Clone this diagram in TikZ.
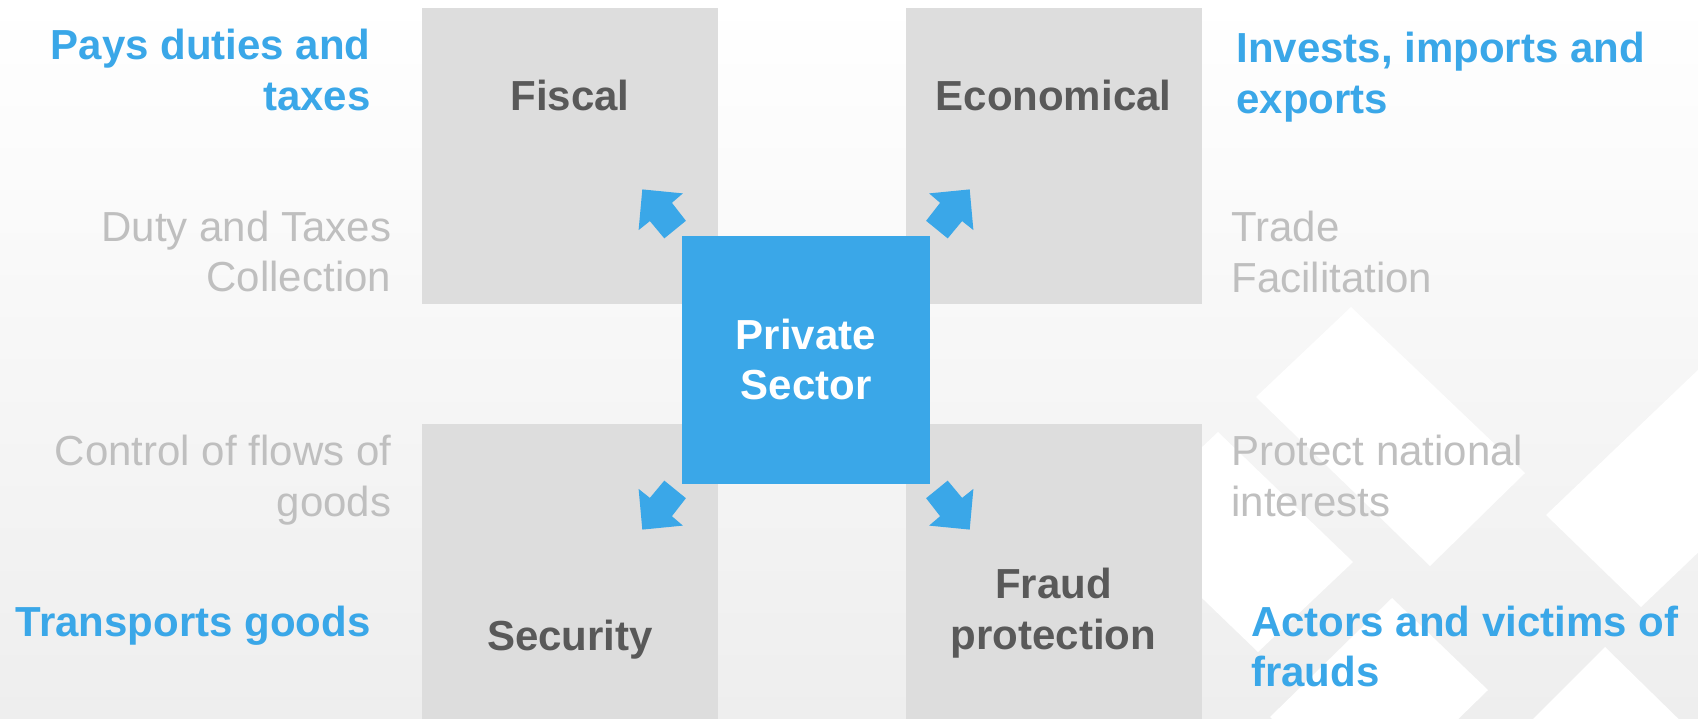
\documentclass[tikz,border=0pt]{standalone}
\usepackage{fontspec}
\setmainfont{Liberation Sans}
\usetikzlibrary{positioning}
\definecolor{sectorblue}{RGB}{58,167,232}
\definecolor{boxgrey}{RGB}{221,221,221}
\definecolor{headgrey}{RGB}{89,89,89}
\definecolor{notegrey}{RGB}{191,191,191}
\definecolor{paperlow}{RGB}{238,238,238}

\begin{document}
\begin{tikzpicture}
  [x=0.5pt,y=-0.5pt,
   every node/.style={inner sep=0pt,font=\fontsize{21}{25.3}\selectfont},
   quad/.style={rectangle,draw=none,fill=boxgrey,minimum width=148pt,minimum height=148pt},
   hub/.style={rectangle,fill=sectorblue,text=white,minimum size=124pt,align=center,font=\fontsize{21}{25.3}\selectfont\bfseries},
   area/.style={text=headgrey,align=center,font=\fontsize{21}{25.3}\selectfont\bfseries},
   role/.style={text=sectorblue,font=\fontsize{21}{25.3}\selectfont\bfseries},
   task/.style={text=notegrey}]
  \path[use as bounding box,clip] (0,0) rectangle (1698,718);
  \shade[top color=white,bottom color=paperlow] (0,0) rectangle (1698,718);
  % white lattice in the corner
  \fill[white] (1256,397) -- (1351,307) -- (1525,473) -- (1430,566) -- cycle;
  \fill[white] (1123,522) -- (1218,432) -- (1353,562) -- (1258,652) -- cycle;
  \fill[white] (1546,515) -- (1700,368) -- (1795,460) -- (1641,607) -- cycle;
  \fill[white] (1392,598) -- (1488,690) -- (1366,809) -- (1270,717) -- cycle;
  \fill[white] (1605,647) -- (1700,740) -- (1620,820) -- (1525,727) -- cycle;

  % the four fields
  \node[quad] (fiscal) at (570,155.5) {};
  \node[quad] (econ) at (1053.5,155.5) {};
  \node[quad] (secur) at (570,572) {};
  \node[quad] (fraud) at (1053.5,572) {};

  \node[hub] (sector) at (806,359.5) {Private\\Sector};
  \foreach \sx/\sy/\corner in {1/1/north west,-1/1/north east,1/-1/south west,-1/-1/south east}
    \fill[sectorblue,shift={(sector.\corner)},xscale=\sx,yscale=\sy]
      (-39.3,-45.7) -- (1.3,-41.7) -- (-9.7,-32.3) -- (4.3,-14.3)
      -- (-17.3,3.3) -- (-31.7,-14) -- (-43,-5) -- cycle;

  \node[area,anchor=base] (fiscallbl) at (570,110) {Fiscal};
  \node[area,anchor=base] (econlbl) at (1053.5,110) {Economical};
  \node[area,anchor=base] (securlbl) at (570,650) {Security};
  \node[area,anchor=base] (fraudlbl) at (1053.5,649) {Fraud\\protection};

  \node[role,anchor=base east,align=right] (pays) at (371,110) {Pays duties and\\taxes};
  \node[role,anchor=base west,align=left] (invests) at (1236,113) {Invests, imports and\\exports};
  \node[role,anchor=base east] (transports) at (371,636) {Transports goods};
  \node[role,anchor=base west,align=left] (actors) at (1250.7,686.7) {Actors and victims of\\frauds};

  \node[task,anchor=base east,align=right] (duty) at (391.5,291.7) {Duty and Taxes\\Collection};
  \node[task,anchor=base west,align=left] (trade) at (1231,292.5) {Trade\\Facilitation};
  \node[task,anchor=base east,align=right] (control) at (391.5,516.5) {Control of flows of\\goods};
  \node[task,anchor=base west,align=left] (protect) at (1231,516.5) {Protect national\\interests};
\end{tikzpicture}
\end{document}
